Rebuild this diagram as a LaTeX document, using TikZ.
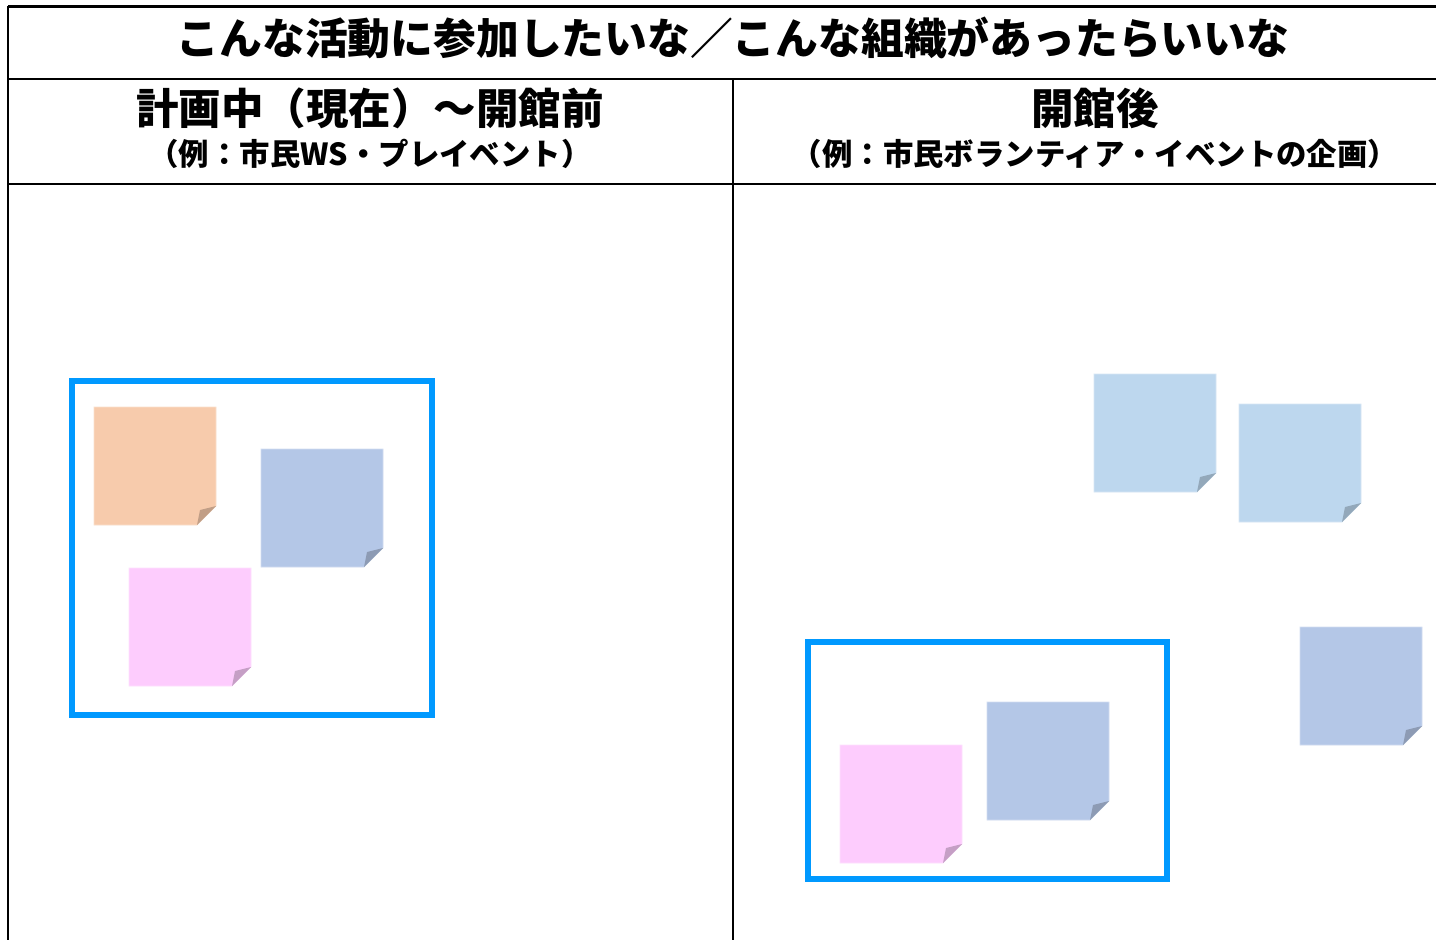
\documentclass[tikz,border=0pt]{standalone}
\usepackage{fontspec}
\newfontfamily\jp{Noto Sans CJK JP}
\definecolor{frameblue}{HTML}{0099FF}
\definecolor{orangenote}{HTML}{F7CBAC}
\definecolor{bluenote}{HTML}{B4C7E7}
\definecolor{pinknote}{HTML}{FDCCFD}
\definecolor{lightbluenote}{HTML}{BDD7EE}
\tikzset{
  x=1pt, y=-1pt,
  rule/.style={line width=2.2pt, draw=black},
  groupbox/.style={line width=5.5pt, draw=frameblue},
  titletext/.style={font=\jp\bfseries\fontsize{42.8}{46}\selectfont, inner sep=0pt, anchor=center},
  headtext/.style={font=\jp\bfseries\fontsize{42.5}{46}\selectfont, inner sep=0pt, anchor=center},
  subtext/.style={font=\jp\bfseries\fontsize{30.4}{33}\selectfont, inner sep=0pt, anchor=center},
  pics/note/.style={code={
    \fill[#1, draw=#1!60!white, line width=0.6pt] (0,0) -- (122,0) -- (122,99) -- (103,118) -- (0,118) -- cycle;
    \fill[#1!78!black] (103,118) .. controls (104,110) .. (106,103) -- (122,99) -- cycle;
  }}
}
\begin{document}
\begin{tikzpicture}
\useasboundingbox (0,0) rectangle (1436,940);
\fill[white] (0,0) rectangle (1436,940);
% frame
\coordinate (tl) at (8,6);
\coordinate (tr) at (1436,6);
\coordinate (bl) at (8,940);
\coordinate (h1l) at (8,79);
\coordinate (h1r) at (1436,79);
\coordinate (h2l) at (8,184);
\coordinate (h2r) at (1436,184);
\coordinate (vt) at (733,79);
\coordinate (vb) at (733,940);
\draw[rule, line width=3pt] (tl) -- (tr);
\draw[rule] (tl) -- (bl);
\draw[rule] (h1l) -- (h1r);
\draw[rule] (h2l) -- (h2r);
\draw[rule] (vt) -- (vb);
% texts
\node[titletext] (title) at (733,38) {こんな活動に参加したいな／こんな組織があったらいいな};
\node[headtext] (lefthead) at (370,108) {計画中（現在）～開館前};
\node[subtext] (leftsub) at (370,154) {（例：市民WS・プレイベント）};
\node[headtext] (righthead) at (1095,108) {開館後};
\node[subtext] (rightsub) at (1095,154) {（例：市民ボランティア・イベントの企画）};
% left group
\draw[groupbox] (72,381) rectangle (432,715);
\pic at (94,407) {note=orangenote};
\pic at (261,449) {note=bluenote};
\pic at (129,568) {note=pinknote};
% right side
\pic at (1094,374) {note=lightbluenote};
\pic at (1239,404) {note=lightbluenote};
\pic at (1300,627) {note=bluenote};
\draw[groupbox] (808,642) rectangle (1167,879);
\pic at (840,745) {note=pinknote};
\pic at (987,702) {note=bluenote};
\end{tikzpicture}
\end{document}
